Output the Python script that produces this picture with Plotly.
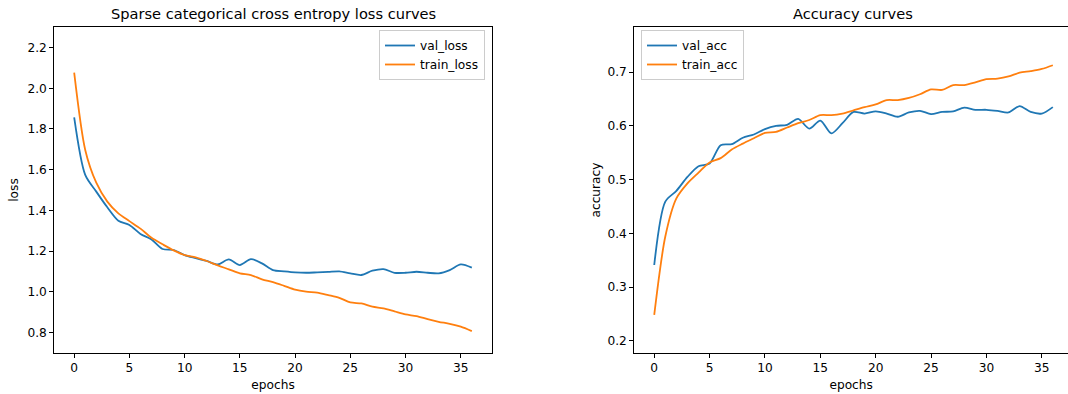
import plotly.graph_objects as go

epochs = list(range(37))

val_loss = [1.857, 1.574, 1.492, 1.415, 1.349, 1.328, 1.284, 1.257, 1.210, 1.205,
            1.180, 1.165, 1.151, 1.134, 1.159, 1.131, 1.160, 1.139, 1.106, 1.100,
            1.095, 1.093, 1.095, 1.097, 1.100, 1.090, 1.082, 1.103, 1.111, 1.093,
            1.093, 1.098, 1.093, 1.090, 1.106, 1.134, 1.118]
train_loss = [2.077, 1.697, 1.536, 1.443, 1.385, 1.347, 1.310, 1.265, 1.233, 1.203,
              1.180, 1.169, 1.151, 1.129, 1.110, 1.090, 1.082, 1.061, 1.047, 1.029,
              1.010, 1.000, 0.995, 0.983, 0.970, 0.947, 0.942, 0.926, 0.918, 0.903,
              0.888, 0.880, 0.865, 0.852, 0.842, 0.828, 0.806]
val_acc = [0.341, 0.459, 0.479, 0.505, 0.525, 0.530, 0.564, 0.566, 0.578, 0.584,
           0.594, 0.600, 0.602, 0.613, 0.595, 0.610, 0.586, 0.605, 0.626, 0.623,
           0.627, 0.623, 0.617, 0.625, 0.628, 0.622, 0.626, 0.627, 0.634, 0.630,
           0.630, 0.628, 0.625, 0.637, 0.626, 0.623, 0.635]
train_acc = [0.248, 0.394, 0.465, 0.493, 0.513, 0.532, 0.540, 0.556, 0.567, 0.577,
             0.587, 0.589, 0.597, 0.605, 0.611, 0.620, 0.620, 0.623, 0.629, 0.635,
             0.640, 0.648, 0.648, 0.652, 0.659, 0.668, 0.667, 0.676, 0.676, 0.681,
             0.687, 0.688, 0.692, 0.699, 0.702, 0.706, 0.713]

BLUE = "#1f77b4"
ORANGE = "#ff7f0e"
FONT = "DejaVu Sans"
TICK = 12.2
TITLE = 14.6

fig = go.Figure()
fig.add_trace(go.Scatter(x=epochs, y=val_loss, name="val_loss", mode="lines",
                         line=dict(color=BLUE, width=1.8, shape="spline", smoothing=0.8),
                         xaxis="x", yaxis="y", legend="legend"))
fig.add_trace(go.Scatter(x=epochs, y=train_loss, name="train_loss", mode="lines",
                         line=dict(color=ORANGE, width=1.8, shape="spline", smoothing=0.8),
                         xaxis="x", yaxis="y", legend="legend"))
fig.add_trace(go.Scatter(x=epochs, y=val_acc, name="val_acc", mode="lines",
                         line=dict(color=BLUE, width=1.8, shape="spline", smoothing=0.8),
                         xaxis="x2", yaxis="y2", legend="legend2"))
fig.add_trace(go.Scatter(x=epochs, y=train_acc, name="train_acc", mode="lines",
                         line=dict(color=ORANGE, width=1.8, shape="spline", smoothing=0.8),
                         xaxis="x2", yaxis="y2", legend="legend2"))

W, H = 1068, 394
x1d = [54.3 / W, 491.7 / W]
x2d = [634.3 / W, 1.0]
yd = [(H - 352.7) / H, (H - 27.3) / H]

axis_common = dict(showline=True, linecolor="black", linewidth=1, ticks="outside",
                   ticklen=4, tickwidth=1, tickcolor="black", showgrid=False,
                   zeroline=False, automargin=False,
                   tickfont=dict(family=FONT, size=TICK, color="black"))

legend_common = dict(bgcolor="white", bordercolor="#cccccc", borderwidth=1,
                     font=dict(family=FONT, size=TICK, color="black"),
                     tracegroupgap=0, itemwidth=30)

fig.update_layout(
    width=W, height=H,
    margin=dict(l=0, r=0, t=0, b=0, autoexpand=False),
    paper_bgcolor="white", plot_bgcolor="white",
    font=dict(family=FONT, color="black"),
    xaxis=dict(domain=x1d, range=[-1.8, 37.8], tickvals=[0, 5, 10, 15, 20, 25, 30, 35],
               mirror=True, anchor="y",
               title=dict(text="epochs", font=dict(family=FONT, size=TICK), standoff=6),
               **axis_common),
    yaxis=dict(domain=yd, range=[0.7, 2.3], tickvals=[0.8, 1.0, 1.2, 1.4, 1.6, 1.8, 2.0, 2.2],
               tickformat=".1f", mirror=True, anchor="x",
               title=dict(text="loss", font=dict(family=FONT, size=TICK), standoff=6),
               **axis_common),
    xaxis2=dict(domain=x2d, range=[-1.8, 37.37], tickvals=[0, 5, 10, 15, 20, 25, 30, 35],
                mirror=True, anchor="y2",
                title=dict(text="epochs", font=dict(family=FONT, size=TICK), standoff=6),
                **axis_common),
    yaxis2=dict(domain=yd, range=[0.1777, 0.7836], tickvals=[0.2, 0.3, 0.4, 0.5, 0.6, 0.7],
                tickformat=".1f", mirror=False, anchor="x2",
                title=dict(text="accuracy", font=dict(family=FONT, size=TICK), standoff=4),
                **axis_common),
    legend=dict(x=485 / W, y=(H - 30) / H, xanchor="right", yanchor="top", **legend_common),
    legend2=dict(x=641 / W, y=(H - 30) / H, xanchor="left", yanchor="top", **legend_common),
    annotations=[
        dict(text="Sparse categorical cross entropy loss curves", x=(x1d[0] + x1d[1]) / 2,
             y=(H - 14) / H, xref="paper", yref="paper", showarrow=False,
             xanchor="center", yanchor="middle",
             font=dict(family=FONT, size=TITLE, color="black")),
        dict(text="Accuracy curves", x=(634.3 + 634.3 + 437.4) / 2 / W,
             y=(H - 14) / H, xref="paper", yref="paper", showarrow=False,
             xanchor="center", yanchor="middle",
             font=dict(family=FONT, size=TITLE, color="black")),
    ],
)

fig.write_html("out.html", config={"displayModeBar": False},
               post_script="document.body.style.margin='0';document.body.style.overflow='hidden';")
